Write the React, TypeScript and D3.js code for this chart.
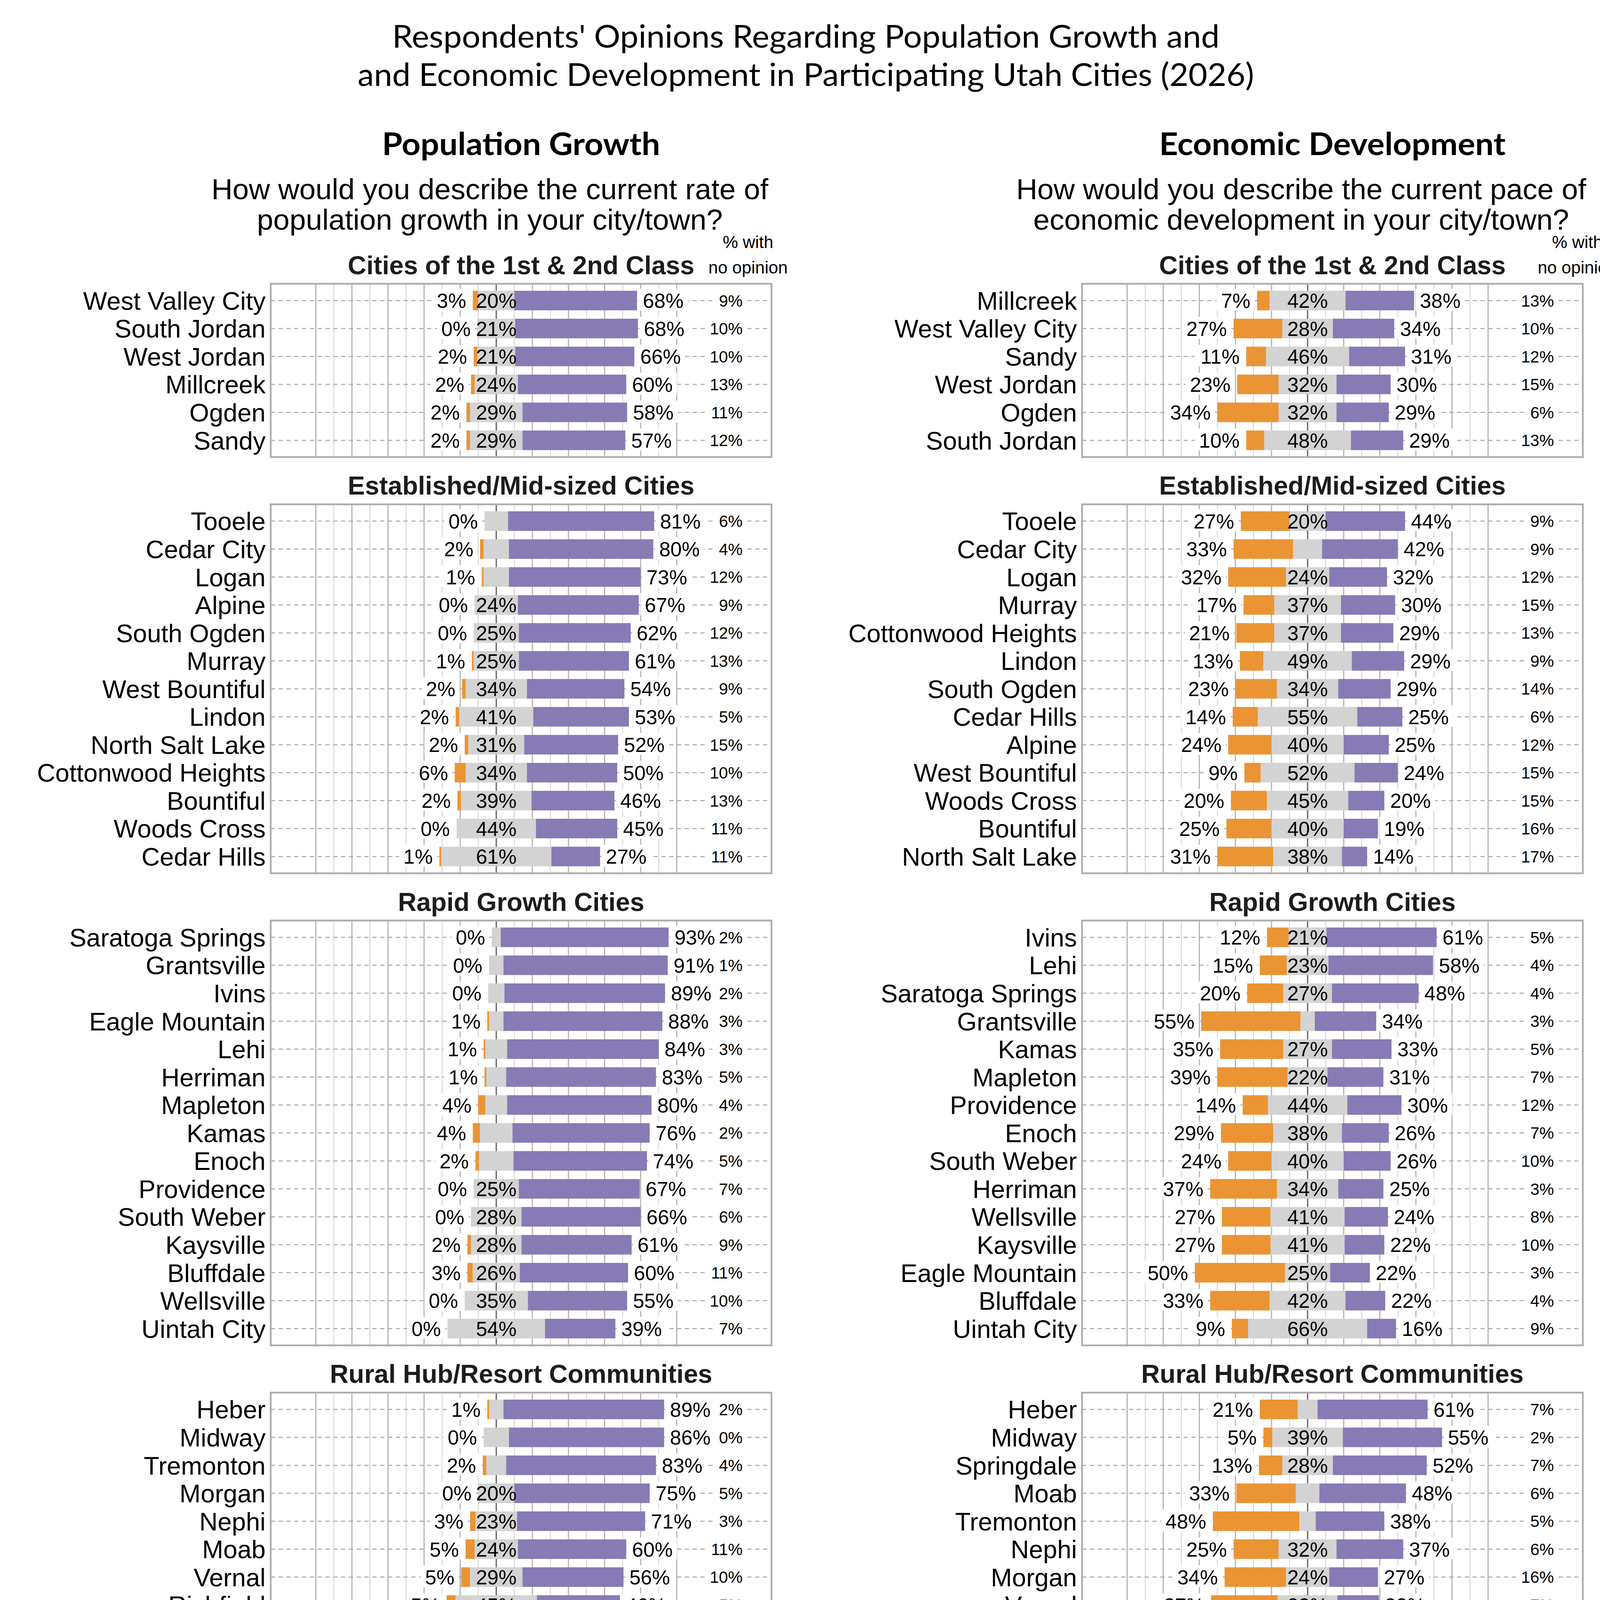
import React, { useEffect } from 'react';
import * as d3 from 'd3';

// city, too slow, just right, too fast, no opinion (%)
type Row = [string, number, number, number, number];

const popClass12: Row[] = [
  ['West Valley City', 3, 20, 68, 9],
  ['South Jordan', 0, 21, 68, 10],
  ['West Jordan', 2, 21, 66, 10],
  ['Millcreek', 2, 24, 60, 13],
  ['Ogden', 2, 29, 58, 11],
  ['Sandy', 2, 29, 57, 12],
];
const popEstablished: Row[] = [
  ['Tooele', 0, 13, 81, 6],
  ['Cedar City', 2, 14, 80, 4],
  ['Logan', 1, 14, 73, 12],
  ['Alpine', 0, 24, 67, 9],
  ['South Ogden', 0, 25, 62, 12],
  ['Murray', 1, 25, 61, 13],
  ['West Bountiful', 2, 34, 54, 9],
  ['Lindon', 2, 41, 53, 5],
  ['North Salt Lake', 2, 31, 52, 15],
  ['Cottonwood Heights', 6, 34, 50, 10],
  ['Bountiful', 2, 39, 46, 13],
  ['Woods Cross', 0, 44, 45, 11],
  ['Cedar Hills', 1, 61, 27, 11],
];
const popRapid: Row[] = [
  ['Saratoga Springs', 0, 5, 93, 2],
  ['Grantsville', 0, 8, 91, 1],
  ['Ivins', 0, 9, 89, 2],
  ['Eagle Mountain', 1, 8, 88, 3],
  ['Lehi', 1, 12, 84, 3],
  ['Herriman', 1, 11, 83, 5],
  ['Mapleton', 4, 12, 80, 4],
  ['Kamas', 4, 18, 76, 2],
  ['Enoch', 2, 19, 74, 5],
  ['Providence', 0, 25, 67, 7],
  ['South Weber', 0, 28, 66, 6],
  ['Kaysville', 2, 28, 61, 9],
  ['Bluffdale', 3, 26, 60, 11],
  ['Wellsville', 0, 35, 55, 10],
  ['Uintah City', 0, 54, 39, 7],
];
const popRuralHub: Row[] = [
  ['Heber', 1, 8, 89, 2],
  ['Midway', 0, 14, 86, 0],
  ['Tremonton', 2, 11, 83, 4],
  ['Morgan', 0, 20, 75, 5],
  ['Nephi', 3, 23, 71, 3],
  ['Moab', 5, 24, 60, 11],
  ['Vernal', 5, 29, 56, 10],
  ['Richfield', 5, 45, 46, 5],
  ['Manila', 26, 28, 38, 9],
  ['Springdale', 4, 41, 32, 23],
  ['Alta', 9, 45, 23, 23],
  ['Blanding', 20, 51, 17, 12],
  ['Wendover', 40, 27, 13, 20],
  ['Bluff', 22, 54, 8, 16],
];
const popTraditional: Row[] = [
  ['Lake Point', 2, 8, 76, 14],
  ['Mayfield', 5, 15, 75, 5],
  ['Toquerville', 1, 24, 72, 4],
  ['La Verkin', 4, 31, 61, 5],
  ['Stockton', 6, 34, 53, 8],
  ['Lewiston', 8, 46, 40, 6],
  ['Delta', 15, 41, 33, 12],
  ['Orangeville', 19, 53, 17, 11],
  ['Ferron', 17, 50, 17, 17],
];

const econClass12: Row[] = [
  ['Millcreek', 7, 42, 38, 13],
  ['West Valley City', 27, 28, 34, 10],
  ['Sandy', 11, 46, 31, 12],
  ['West Jordan', 23, 32, 30, 15],
  ['Ogden', 34, 32, 29, 6],
  ['South Jordan', 10, 48, 29, 13],
];
const econEstablished: Row[] = [
  ['Tooele', 27, 20, 44, 9],
  ['Cedar City', 33, 16, 42, 9],
  ['Logan', 32, 24, 32, 12],
  ['Murray', 17, 37, 30, 15],
  ['Cottonwood Heights', 21, 37, 29, 13],
  ['Lindon', 13, 49, 29, 9],
  ['South Ogden', 23, 34, 29, 14],
  ['Cedar Hills', 14, 55, 25, 6],
  ['Alpine', 24, 40, 25, 12],
  ['West Bountiful', 9, 52, 24, 15],
  ['Woods Cross', 20, 45, 20, 15],
  ['Bountiful', 25, 40, 19, 16],
  ['North Salt Lake', 31, 38, 14, 17],
];
const econRapid: Row[] = [
  ['Ivins', 12, 21, 61, 5],
  ['Lehi', 15, 23, 58, 4],
  ['Saratoga Springs', 20, 27, 48, 4],
  ['Grantsville', 55, 8, 34, 3],
  ['Kamas', 35, 27, 33, 5],
  ['Mapleton', 39, 22, 31, 7],
  ['Providence', 14, 44, 30, 12],
  ['Enoch', 29, 38, 26, 7],
  ['South Weber', 24, 40, 26, 10],
  ['Herriman', 37, 34, 25, 3],
  ['Wellsville', 27, 41, 24, 8],
  ['Kaysville', 27, 41, 22, 10],
  ['Eagle Mountain', 50, 25, 22, 3],
  ['Bluffdale', 33, 42, 22, 4],
  ['Uintah City', 9, 66, 16, 9],
];
const econRuralHub: Row[] = [
  ['Heber', 21, 11, 61, 7],
  ['Midway', 5, 39, 55, 2],
  ['Springdale', 13, 28, 52, 7],
  ['Moab', 33, 13, 48, 6],
  ['Tremonton', 48, 9, 38, 5],
  ['Nephi', 25, 32, 37, 6],
  ['Morgan', 34, 24, 27, 16],
  ['Vernal', 37, 33, 23, 7],
  ['Alta', 17, 43, 22, 17],
  ['Manila', 51, 32, 15, 2],
  ['Richfield', 49, 36, 10, 5],
  ['Bluff', 29, 49, 8, 14],
  ['Blanding', 62, 26, 4, 9],
  ['Wendover', 73, 17, 3, 7],
];
const econTraditional: Row[] = [
  ['La Verkin', 20, 24, 52, 5],
  ['Toquerville', 20, 42, 31, 7],
  ['Lake Point', 43, 20, 31, 6],
  ['Lewiston', 15, 51, 28, 6],
  ['Delta', 35, 30, 27, 8],
  ['Stockton', 28, 30, 25, 17],
  ['Mayfield', 38, 33, 24, 5],
  ['Ferron', 42, 31, 17, 11],
  ['Orangeville', 50, 33, 8, 8],
];

const sectionTitles = [
  'Cities of the 1st & 2nd Class',
  'Established/Mid-sized Cities',
  'Rapid Growth Cities',
  'Rural Hub/Resort Communities',
  'Traditional Rural Communities',
];
const popSections = [popClass12, popEstablished, popRapid, popRuralHub, popTraditional];
const econSections = [econClass12, econEstablished, econRapid, econRuralHub, econTraditional];

const titleLines = [
  "Respondents' Opinions Regarding Population Growth and",
  'and Economic Development in Participating Utah Cities (2026)',
];
const sideTitles = ['Population Growth', 'Economic Development'];
const questions = [
  ['How would you describe the current rate of', 'population growth in your city/town?'],
  ['How would you describe the current pace of', 'economic development in your city/town?'],
];
const legendLabels = ['Too slow', 'Just right', 'Too fast'];
const colors = ['#EB9434', '#D3D3D3', '#887AB4'];

// layout
const W = 4200;
const H = 5700;
const STEP = 71.55;
const GAP = 121;
const TOP0 = 726.5;
const PANEL_W = 1282;
const PANEL_X = [693, 2770];
const X_DOMAIN: [number, number] = [-125, 152.5];
const SANS = '"Liberation Sans", Arial, sans-serif';
const HEAD = 'Lato, "Open Sans", sans-serif';

const labelWidth = (s: string, fs: number) =>
  s.split('').reduce((w, c) => w + (c === '%' ? 0.889 : 0.556), 0) * fs;

function Label({ x, y, text, anchor, fs, bg }: { x: number; y: number; text: string; anchor: 'start' | 'middle' | 'end'; fs: number; bg?: boolean }) {
  const w = labelWidth(text, fs);
  const left = anchor === 'end' ? x - w : anchor === 'middle' ? x - w / 2 : x;
  return (
    <g>
      {bg && <rect x={left - 11} y={y - 30} width={w + 22} height={56} fill="#ffffff" />}
      <text x={x} y={y + fs * 0.36} textAnchor={anchor} fontSize={fs} fontFamily={SANS} fill="#000">
        {text}
      </text>
    </g>
  );
}

function Panel({ rows, x0, top }: { rows: Row[]; x0: number; top: number }) {
  const x = d3.scaleLinear().domain(X_DOMAIN).range([x0, x0 + PANEL_W]);
  const h = (rows.length + 0.2) * STEP;
  const y = d3
    .scaleBand<string>()
    .domain(rows.map((r) => r[0]))
    .range([top, top + h])
    .paddingInner(0.3)
    .paddingOuter(0.25);
  const bw = y.bandwidth();
  const ticks = d3.range(-100, 101, 10);
  return (
    <g>
      <rect x={x0} y={top} width={PANEL_W} height={h} fill="#fff" />
      {ticks.map((t) => (
        <line
          key={t}
          x1={x(t)}
          x2={x(t)}
          y1={top}
          y2={top + h}
          stroke={t === 0 ? '#6e6e6e' : t % 20 === 0 ? '#b4b4b4' : '#d0d0d0'}
          strokeWidth={t === 0 ? 3.5 : t % 20 === 0 ? 3 : 2}
        />
      ))}
      {rows.map((r) => {
        const cy = y(r[0])! + bw / 2;
        return (
          <line key={r[0]} x1={x0} x2={x0 + PANEL_W} y1={cy} y2={cy} stroke="#a6a6a6" strokeWidth={2.5} strokeDasharray="11,9" />
        );
      })}
      {rows.map((r) => {
        const [city, slow, jr, fast] = r;
        const yb = y(city)!;
        return (
          <g key={city}>
            <rect x={x(-jr / 2 - slow)} y={yb} width={x(-jr / 2) - x(-jr / 2 - slow)} height={bw} fill={colors[0]} />
            <rect x={x(-jr / 2)} y={yb} width={x(jr / 2) - x(-jr / 2)} height={bw} fill={colors[1]} />
            <rect x={x(jr / 2)} y={yb} width={x(jr / 2 + fast) - x(jr / 2)} height={bw} fill={colors[2]} />
          </g>
        );
      })}
      {rows.map((r) => {
        const [city, slow, jr, fast] = r;
        const cy = y(city)! + bw / 2;
        return (
          <g key={city}>
            <Label x={x(-jr / 2 - slow) - 17} y={cy} text={`${slow}%`} anchor="end" fs={52} bg />
            {jr >= 20 && <Label x={x(0)} y={cy} text={`${jr}%`} anchor="middle" fs={52} />}
            <Label x={x(jr / 2 + fast) + 15} y={cy} text={`${fast}%`} anchor="start" fs={52} bg />
          </g>
        );
      })}
      {rows.map((r) => {
        const cy = y(r[0])! + bw / 2;
        return <Label key={r[0]} x={x(136.5)} y={cy} text={`${r[4]}%`} anchor="end" fs={42} bg />;
      })}
      {rows.map((r) => {
        const cy = y(r[0])! + bw / 2;
        return (
          <text key={r[0]} x={x0 - 13} y={cy + 65 * 0.36} textAnchor="end" fontSize={65} fontFamily={SANS} fill="#000">
            {r[0]}
          </text>
        );
      })}
      <rect x={x0} y={top} width={PANEL_W} height={h} fill="none" stroke="#adadad" strokeWidth={4.5} />
    </g>
  );
}

function Side({ sections, side }: { sections: Row[][]; side: number }) {
  const x0 = PANEL_X[side];
  const cx = x0 + PANEL_W / 2;
  let top = TOP0;
  const panels = sections.map((rows, i) => {
    const t = top;
    top += (rows.length + 0.2) * STEP + GAP;
    return (
      <g key={i}>
        <text x={cx} y={t - 25} textAnchor="middle" fontSize={66} fontWeight="bold" fontFamily={SANS} fill="#1c1c1c">
          {sectionTitles[i]}
        </text>
        <Panel rows={rows} x0={x0} top={t} />
      </g>
    );
  });
  const headX = side === 0 ? 1915 : 4038;
  return (
    <g>
      <text x={cx} y={397} textAnchor="middle" fontSize={80} fontWeight="bold" fontFamily={HEAD} fill="#000"
        textLength={side === 0 ? 712 : 887} lengthAdjust="spacingAndGlyphs">
        {sideTitles[side]}
      </text>
      {questions[side].map((q, i) => (
        <text key={i} x={cx - 80} y={510 + i * 78} textAnchor="middle" fontSize={75} fontFamily={SANS} fill="#000">
          {q}
        </text>
      ))}
      <text x={headX} y={635} textAnchor="middle" fontSize={44} fontFamily={SANS} fill="#000">% with</text>
      <text x={headX} y={700} textAnchor="middle" fontSize={44} fontFamily={SANS} fill="#000">no opinion</text>
      {panels}
    </g>
  );
}

export default function App() {
  useEffect(() => {
    document.body.style.margin = '0';
  }, []);
  const legendX = [1735, 2175, 2626];
  return (
    <svg width={W} height={H} viewBox={`0 0 ${W} ${H}`} style={{ display: 'block', background: '#fff' }}>
      <rect width={W} height={H} fill="#fff" />
      {titleLines.map((t, i) => (
        <text key={i} x={2063} y={122 + i * 98} textAnchor="middle" fontSize={82} fontFamily={HEAD} fill="#000"
          textLength={i === 0 ? 2118 : 2295} lengthAdjust="spacingAndGlyphs">
          {t}
        </text>
      ))}
      <Side sections={popSections} side={0} />
      <Side sections={econSections} side={1} />
      {legendLabels.map((l, i) => (
        <g key={l}>
          <rect x={legendX[i]} y={5432} width={70} height={76} fill={colors[i]} />
          <text x={legendX[i] + 116} y={5502} fontSize={64} fontFamily={SANS} fill="#000">
            {l}
          </text>
        </g>
      ))}
    </svg>
  );
}
